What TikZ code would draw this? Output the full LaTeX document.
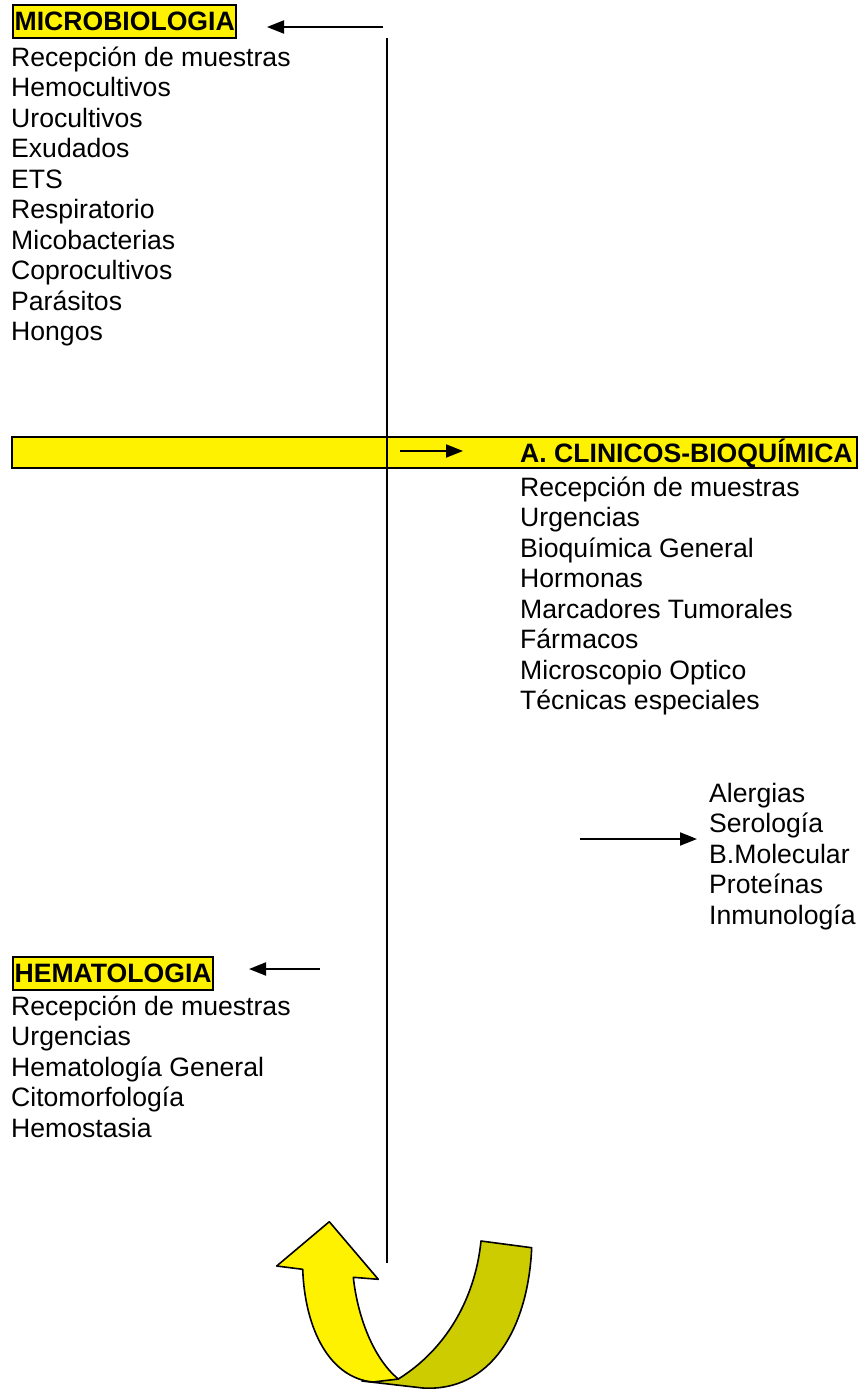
\documentclass[tikz,border=0pt]{standalone}
\usepackage{fontspec}
\setmainfont{Liberation Sans}
\usetikzlibrary{arrows.meta}
\definecolor{darkyel}{RGB}{204,204,0}
\begin{document}
\begin{tikzpicture}[x=1pt,y=-1pt,
  every node/.style={font=\fontsize{26.6}{30.5}\selectfont, inner sep=0pt},
  item/.style={anchor=base west},
  titlebox/.style={anchor=base west, draw, line width=2.2pt, fill=yellow,
    font=\fontsize{26.6}{30.5}\selectfont\bfseries, inner xsep=1.5pt, inner ysep=0pt,
    text height=25pt, text depth=8pt},
  conn/.style={line width=2pt, -{Triangle[length=17pt,width=13pt]}},
  axis/.style={line width=2pt},
  ribbon/.style={line width=1.6pt, line join=round}]
\useasboundingbox (0,0) rectangle (860,1390);

% yellow bar
\node[draw, line width=2.2pt, fill=yellow, minimum width=845pt, minimum height=31pt] (bar) at (434.5,452.5) {};

% main vertical line
\coordinate (top) at (387,38);
\coordinate (bottom) at (387,1263);
\draw[axis] (top) -- (bottom);

% MICROBIOLOGIA
\node[titlebox] (micro) at (12,30) {MICROBIOLOGIA};
\coordinate (microfrom) at (383,27);
\coordinate (microto) at (267,27);
\draw[conn] (microfrom) -- (microto);
\foreach \t [count=\i from 0] in {Recepción de muestras,Hemocultivos,Urocultivos,Exudados,ETS,Respiratorio,Micobacterias,Coprocultivos,Parásitos,Hongos}
  \node[item] (mi\i) at (11,66+30.5*\i) {\t};

% A. CLINICOS-BIOQUIMICA
\node[item, font=\fontsize{26.6}{30.5}\selectfont\bfseries] (clin) at (520,462) {A. CLINICOS-BIOQUÍMICA};
\coordinate (clinfrom) at (400,451);
\coordinate (clinto) at (463,451);
\draw[conn] (clinfrom) -- (clinto);
\foreach \t [count=\i from 0] in {Recepción de muestras,Urgencias,Bioquímica General,Hormonas,Marcadores Tumorales,Fármacos,Microscopio Optico,Técnicas especiales}
  \node[item] (ci\i) at (520,496+30.5*\i) {\t};

% Alergias group
\coordinate (alfrom) at (580,839);
\coordinate (alto) at (697,839);
\draw[conn] (alfrom) -- (alto);
\foreach \t [count=\i from 0] in {Alergias,Serología,B.Molecular,Proteínas,Inmunología}
  \node[item] (ai\i) at (709,802+30.5*\i) {\t};

% HEMATOLOGIA
\node[titlebox] (hema) at (12,982) {HEMATOLOGIA};
\coordinate (hemafrom) at (320,969);
\coordinate (hemato) at (249,969);
\draw[conn] (hemafrom) -- (hemato);
\foreach \t [count=\i from 0] in {Recepción de muestras,Urgencias,Hematología General,Citomorfología,Hemostasia}
  \node[item] (hi\i) at (11,1015+30.5*\i) {\t};

% U-turn ribbon arrow
\draw[ribbon, fill=darkyel] (481,1241) -- (531.7,1247.7)
  .. controls (528,1330) and (490,1392) .. (423,1388)
  -- (362,1381) -- (398.3,1379)
  .. controls (445,1350) and (475,1300) .. (481,1241) -- cycle;
\draw[ribbon, fill=yellow] (329.3,1221.7) -- (378.3,1279.3) -- (353.3,1277.3)
  .. controls (358,1320) and (375,1360) .. (398.3,1379)
  -- (373,1382)
  .. controls (330,1378) and (305,1330) .. (302.7,1269.3)
  -- (276.7,1266) -- cycle;
\end{tikzpicture}
\end{document}
